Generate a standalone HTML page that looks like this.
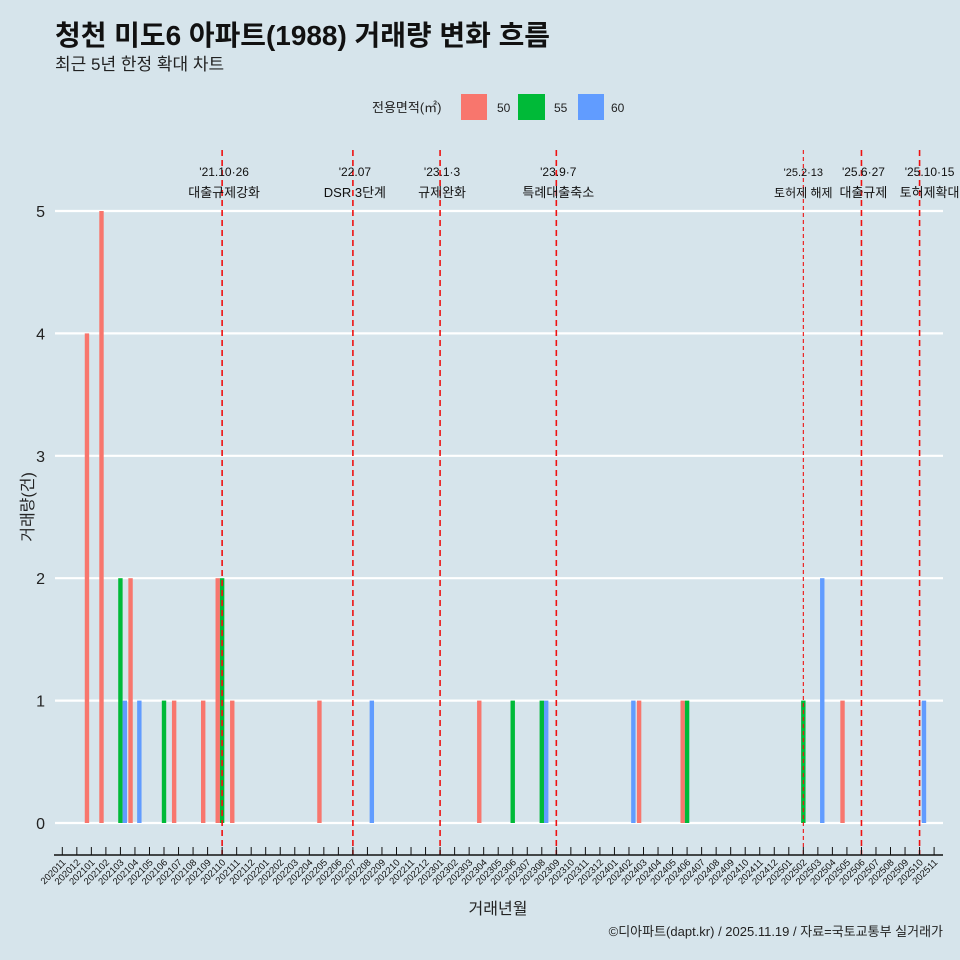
<!DOCTYPE html>
<html><head><meta charset="utf-8">
<style>
html,body{margin:0;padding:0;background:#d6e4eb;}
svg{display:block;font-family:"Liberation Sans","Noto Sans CJK KR",sans-serif;}
</style></head>
<body>
<svg id="chart" width="960" height="960" viewBox="0 0 960 960" xmlns="http://www.w3.org/2000/svg">
<rect width="960" height="960" fill="#d6e4eb"/>
<text x="55" y="45" font-size="28" font-weight="bold" fill="#111" textLength="495" lengthAdjust="spacingAndGlyphs">청천 미도6 아파트(1988) 거래량 변화 흐름</text>
<text x="55" y="70" font-size="17" fill="#222">최근 5년 한정 확대 차트</text>
<g>
<text x="372" y="112" font-size="13" fill="#222">전용면적(㎡)</text>
<rect x="461" y="94" width="26" height="26" fill="#f8766d"/>
<text x="497" y="112" font-size="12" fill="#222">50</text>
<rect x="518" y="94" width="27" height="26" fill="#00ba38"/>
<text x="554" y="112" font-size="12" fill="#222">55</text>
<rect x="578" y="94" width="26" height="26" fill="#619cff"/>
<text x="611" y="112" font-size="12" fill="#222">60</text>
</g>
<g id="grid"></g><g id="bars"></g><g id="events"></g><g id="axes"></g>
<text transform="translate(33,507) rotate(-90)" text-anchor="middle" font-size="16" fill="#222">거래량(건)</text>
<text x="498" y="914" text-anchor="middle" font-size="16" fill="#222">거래년월</text>
<text x="943" y="936" text-anchor="end" font-size="13" fill="#222">©디아파트(dapt.kr) / 2025.11.19 / 자료=국토교통부 실거래가</text>
</svg>
<script>
const months = [];
for (let y=2020,m=11; y<2025 || (y===2025 && m<=11); ) { months.push(String(y)+String(m).padStart(2,'0')); m++; if(m>12){m=1;y++;} }
const yTicks = [0,1,2,3,4,5];
const groups = ['50','55','60'];
const colors = {'50':'#f8766d','55':'#00ba38','60':'#619cff'};
const barMonths = ['202101','202102','202103','202103','202104','202104','202106','202107','202109','202110','202110','202111','202205','202208','202304','202306','202308','202308','202402','202403','202406','202406','202502','202503','202505','202510'];
const barGroups = ['50','50','55','60','50','60','55','50','50','50','55','50','50','60','50','55','55','60','60','50','50','55','55','60','50','60'];
const barValues = [4,5,2,1,2,1,1,1,1,2,2,1,1,1,1,1,1,1,1,1,1,1,1,2,1,1];
const eventMonths = ['202110','202207','202301','202309','202502','202506','202510'];
const eventDates = ["'21.10·26","'22.07","'23.1·3","'23.9·7","'25.2·13","'25.6·27","'25.10·15"];
const eventLabels = ['대출규제강화','DSR 3단계','규제완화','특례대출축소','토허제 해제','대출규제','토허제확대'];

const NS='http://www.w3.org/2000/svg';
function mk(tag,attrs,parent){const e=document.createElementNS(NS,tag);for(const k in attrs)e.setAttribute(k,attrs[k]);parent.appendChild(e);return e;}
const x0=62.3, step=14.53;
const xScale = m => x0 + months.indexOf(m)*step;
const yScale = v => 823 - v*122.4;
const off = {'50':-4.4,'55':0,'60':4.4};
const grid=document.getElementById('grid'), bars=document.getElementById('bars'), ev=document.getElementById('events'), axes=document.getElementById('axes');

yTicks.forEach(t=>{
  const l=mk('line',{x1:55,x2:943,y1:yScale(t),y2:yScale(t),stroke:'#fff','stroke-width':2.2},grid);
  
  
  const tx=mk('text',{x:45,y:yScale(t)+6,'text-anchor':'end','font-size':16,fill:'#222'},axes);
  tx.textContent=t;
  
  
});

barMonths.forEach((m,i)=>{
  const cx=xScale(m)+off[barGroups[i]];
  const r=mk('rect',{x:cx-2.2,y:yScale(barValues[i]),width:4.4,height:yScale(0)-yScale(barValues[i]),fill:colors[barGroups[i]]},bars);
  
  
});

eventMonths.forEach((m,i)=>{
  const x=xScale(m);
  const thin = m==='202502';
  const l=mk('line',{x1:x,x2:x,y1:150,y2:855,stroke:'#ee1111','stroke-width':thin?1.1:1.6,'stroke-dasharray':thin?'4,3':'6,4'},ev);
  
  
  const fs = thin?11:12;
  const cx = x + (thin?0:(i===6?10:2));
  const t1=mk('text',{x:cx,y:176,'text-anchor':'middle','font-size':fs,fill:'#111'},ev);
  t1.textContent=eventDates[i];
  
  
  const t2=mk('text',{x:cx,y:197,'text-anchor':'middle','font-size':fs+1,fill:'#111'},ev);
  t2.textContent=eventLabels[i];
  
  
});

const ax=mk('line',{x1:54,x2:943,y1:855,y2:855,stroke:'#111','stroke-width':1.4},axes);


months.forEach(m=>{
  const x=xScale(m);
  const tk=mk('line',{x1:x,x2:x,y1:847,y2:855,stroke:'#111','stroke-width':1},axes);
  
  
  const t=mk('text',{transform:'translate('+(x+4)+',863) rotate(-45)','text-anchor':'end','font-size':9.5,fill:'#111'},axes);
  t.textContent=m;
  
  
});
</script>
</body></html>
